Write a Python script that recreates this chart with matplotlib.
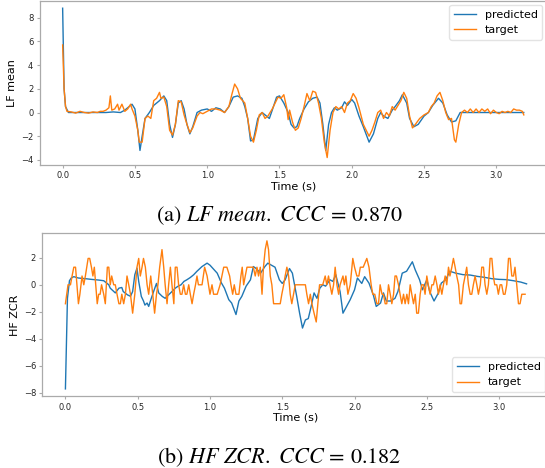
import matplotlib
matplotlib.use("Agg")
import matplotlib.pyplot as plt
import numpy as np

# (a) LF mean
t_lf_pred = [0.00, 0.01, 0.02, 0.04, 0.10, 0.20, 0.30, 0.35, 0.40, 0.43, 0.46, 0.48, 0.50, 0.52,
             0.535, 0.55, 0.57, 0.60, 0.63, 0.67, 0.70, 0.72, 0.74, 0.76, 0.78, 0.80, 0.82, 0.84,
             0.86, 0.88, 0.90, 0.93, 0.96, 1.00, 1.03, 1.06, 1.09, 1.12, 1.15, 1.18, 1.21, 1.24,
             1.26, 1.28, 1.30, 1.32, 1.35, 1.38, 1.40, 1.43, 1.45, 1.48, 1.50, 1.53, 1.56, 1.58,
             1.60, 1.62, 1.64, 1.67, 1.70, 1.73, 1.76, 1.78, 1.80, 1.82, 1.84, 1.86, 1.88, 1.90,
             1.93, 1.95, 1.97, 2.00, 2.02, 2.05, 2.08, 2.12, 2.15, 2.18, 2.20, 2.22, 2.25, 2.28,
             2.30, 2.33, 2.35, 2.38, 2.40, 2.43, 2.46, 2.50, 2.53, 2.56, 2.60, 2.63, 2.66, 2.69,
             2.72, 2.75, 2.80, 3.00, 3.19]
lf_pred = [8.8, 2.0, 0.5, 0.0, 0.0, 0.0, 0.0, 0.05, 0.0, 0.2, 0.5, 0.7, 0.3, -1.5,
           -3.2, -2.0, -0.5, 0.0, 0.6, 1.0, 1.4, 1.0, -1.0, -2.1, -1.0, 0.8, 1.0, 0.3,
           -1.0, -1.8, -1.2, 0.0, 0.2, 0.3, 0.1, 0.4, 0.3, 0.0, 0.5, 1.3, 1.4, 1.2,
           0.5, -0.5, -2.4, -2.3, -0.5, 0.0, -0.2, -0.5, 0.2, 1.3, 1.4, 0.8, 0.0, -1.0,
           -1.3, -1.2, -0.5, 0.3, 0.9, 1.2, 1.3, 0.8, -1.0, -3.2, -1.0, 0.0, 0.4, 0.2,
           0.4, 0.9, 0.6, 1.1, 0.8, -0.3, -1.2, -2.5, -1.8, -0.5, 0.0, -0.3, -0.5, 0.2,
           0.5, 1.0, 1.5, 0.8, -0.5, -1.2, -1.0, -0.3, 0.0, 0.6, 1.2, 0.8, -0.2, -0.8,
           -0.7, 0.0, 0.0, 0.0, 0.0]

t_lf_target = [0.00, 0.01, 0.02, 0.03, 0.06, 0.09, 0.12, 0.15, 0.18, 0.21, 0.24, 0.26, 0.28, 0.30,
               0.32, 0.33, 0.34, 0.36, 0.38, 0.39, 0.41, 0.43, 0.45, 0.47, 0.48, 0.50, 0.52, 0.53,
               0.55, 0.57, 0.59, 0.61, 0.63, 0.65, 0.67, 0.68, 0.70, 0.72, 0.74, 0.76, 0.78, 0.80,
               0.82, 0.84, 0.86, 0.88, 0.90, 0.93, 0.95, 0.97, 1.00, 1.03, 1.06, 1.09, 1.12, 1.15,
               1.17, 1.19, 1.21, 1.23, 1.26, 1.28, 1.30, 1.32, 1.34, 1.36, 1.38, 1.40, 1.42, 1.45,
               1.47, 1.49, 1.51, 1.53, 1.55, 1.56, 1.57, 1.59, 1.61, 1.63, 1.65, 1.67, 1.69, 1.71,
               1.73, 1.75, 1.77, 1.79, 1.81, 1.83, 1.85, 1.87, 1.89, 1.91, 1.93, 1.95, 1.97, 1.99,
               2.01, 2.03, 2.05, 2.08, 2.10, 2.12, 2.14, 2.16, 2.18, 2.20, 2.22, 2.24, 2.26, 2.28,
               2.30, 2.32, 2.34, 2.36, 2.38, 2.40, 2.42, 2.44, 2.47, 2.50, 2.53, 2.55, 2.57, 2.59,
               2.61, 2.63, 2.65, 2.67, 2.69, 2.71, 2.72, 2.74, 2.76, 2.78, 2.80, 2.82, 2.84, 2.86,
               2.88, 2.90, 2.92, 2.94, 2.96, 2.98, 3.00, 3.02, 3.04, 3.06, 3.08, 3.10, 3.12, 3.14,
               3.16, 3.18, 3.19]
lf_target = [5.7, 2.0, 0.5, 0.1, 0.05, -0.05, 0.1, 0.0, -0.05, 0.05, 0.0, 0.1, 0.1, 0.2,
             0.4, 1.4, 0.2, 0.3, 0.7, 0.2, 0.7, 0.1, 0.3, 0.7, 0.3, -0.3, -1.5, -2.5,
             -2.5, -0.5, -0.3, -0.5, 1.0, 1.2, 1.7, 1.2, 1.3, 0.5, -1.5, -1.9, -1.0, 1.0,
             0.9, -0.2, -1.0, -1.7, -1.3, -0.3, 0.0, -0.1, 0.1, 0.3, 0.3, 0.2, 0.0, 0.5,
             1.5, 2.4, 2.0, 1.2, 0.8, -0.5, -2.0, -2.5, -1.5, -0.2, 0.0, -0.5, -0.3, 0.3,
             0.8, 1.3, 1.2, 1.5, 0.4, -0.6, 0.2, -0.8, -1.5, -1.3, -0.5, 0.5, 1.6, 1.0,
             1.8, 1.7, 0.8, -0.5, -2.5, -3.8, -1.5, 0.0, 0.5, 0.3, 0.5, 0.0, 0.8, 1.0,
             1.6, 1.2, 0.4, -1.0, -1.5, -2.0, -1.5, -0.8, 0.0, 0.2, -0.5, 0.0, -0.3, 0.5,
             0.2, 0.6, 1.0, 1.7, 1.2, -0.3, -1.3, -1.0, -0.5, -0.2, 0.0, 0.5, 0.8, 1.4,
             1.7, 1.0, 0.0, -0.6, -0.5, -2.3, -2.5, -1.0, 0.0, 0.2, 0.0, 0.3, 0.0, 0.3,
             0.0, 0.3, 0.1, 0.3, -0.1, 0.2, 0.0, -0.1, 0.1, 0.0, 0.1, 0.0, 0.3, 0.2,
             0.2, 0.1, -0.2]

# (b) HF ZCR
t_hf_pred = [0.00, 0.014, 0.028, 0.04, 0.058, 0.09, 0.14, 0.18, 0.23, 0.265, 0.30, 0.31, 0.345,
             0.37, 0.39, 0.40, 0.43, 0.45, 0.465, 0.48, 0.495, 0.507, 0.525, 0.54, 0.55, 0.565,
             0.576, 0.594, 0.61, 0.63, 0.645, 0.67, 0.69, 0.714, 0.737, 0.76, 0.78, 0.80, 0.82,
             0.84, 0.864, 0.887, 0.91, 0.945, 0.98, 1.00, 1.05, 1.08, 1.10, 1.13, 1.15, 1.18,
             1.20, 1.22, 1.25, 1.28, 1.30, 1.32, 1.35, 1.38, 1.40, 1.45, 1.48, 1.50, 1.52, 1.55,
             1.57, 1.60, 1.62, 1.64, 1.66, 1.68, 1.70, 1.72, 1.74, 1.76, 1.78, 1.80, 1.83, 1.85,
             1.87, 1.90, 1.92, 1.95, 1.97, 2.00, 2.02, 2.05, 2.07, 2.10, 2.13, 2.15, 2.18, 2.20,
             2.22, 2.25, 2.28, 2.30, 2.33, 2.36, 2.38, 2.40, 2.42, 2.45, 2.47, 2.50, 2.52, 2.55,
             2.58, 2.60, 2.63, 2.66, 2.70, 2.75, 2.80, 2.85, 2.90, 2.95, 3.00, 3.05, 3.10, 3.15,
             3.19]
hf_pred = [-7.7, -1.0, 0.3, 0.5, 0.6, 0.5, 0.45, 0.4, 0.35, 0.3, 0.0, -0.25, -0.6,
           -0.25, -0.2, -0.5, -0.75, -0.85, -0.5, 0.74, 1.23, 0.25, -0.86, -1.2, -1.5, -1.35,
           -1.6, -1.0, -0.5, 0.1, -0.6, -0.86, -1.0, -0.74, -0.5, -0.25, -0.1, 0.0, 0.25,
           0.37, 0.54, 0.74, 1.0, 1.35, 1.6, 1.45, 0.86, 0.12, -0.25, -1.1, -1.35, -2.2,
           -1.2, -0.86, -0.1, 0.37, 1.35, 1.2, 0.86, 1.35, 1.6, 1.3, 0.37, 0.1, 0.37, 1.2,
           0.86, -0.86, -2.1, -3.2, -2.6, -2.5, -1.6, -0.6, -1.0, -0.25, 0.0, -0.1, 0.37, 0.25,
           0.75, -0.5, -2.1, -1.5, -1.1, -0.37, 0.5, 0.1, 0.6, 0.12, -0.75, -1.6, -1.35, -0.6,
           -1.2, -1.2, -1.0, -0.5, 0.86, 1.0, 1.35, 1.7, 1.1, 0.37, -0.37, 0.37, -0.5, -1.2,
           -0.6, 0.12, 0.37, 1.0, 0.86, 0.75, 0.72, 0.62, 0.55, 0.45, 0.4, 0.38, 0.3, 0.2,
           0.07]

t_hf_target = [0.000, 0.018, 0.035, 0.046, 0.058, 0.070, 0.080, 0.090, 0.100, 0.115, 0.127, 0.138,
               0.157, 0.168, 0.180, 0.190, 0.200, 0.220, 0.230, 0.240, 0.250, 0.265, 0.276, 0.290,
               0.300, 0.310, 0.320, 0.334, 0.345, 0.357, 0.370, 0.380, 0.390, 0.403, 0.415, 0.426,
               0.438, 0.450, 0.465, 0.480, 0.495, 0.507, 0.518, 0.530, 0.540, 0.553, 0.565, 0.576,
               0.590, 0.604, 0.617, 0.630, 0.640, 0.652, 0.668, 0.680, 0.690, 0.703, 0.714, 0.726,
               0.737, 0.750, 0.760, 0.772, 0.783, 0.795, 0.806, 0.818, 0.830, 0.840, 0.853, 0.864,
               0.876, 0.887, 0.900, 0.910, 0.920, 0.945, 0.963, 0.980, 0.990, 1.000, 1.014, 1.025,
               1.050, 1.070, 1.095, 1.117, 1.136, 1.145, 1.157, 1.168, 1.180, 1.200, 1.214, 1.223,
               1.233, 1.244, 1.256, 1.280, 1.300, 1.313, 1.325, 1.336, 1.348, 1.360, 1.370, 1.382,
               1.394, 1.405, 1.417, 1.428, 1.440, 1.460, 1.486, 1.497, 1.510, 1.520, 1.532, 1.544,
               1.555, 1.566, 1.578, 1.590, 1.613, 1.636, 1.660, 1.670, 1.682, 1.694, 1.705, 1.720,
               1.735, 1.746, 1.758, 1.770, 1.780, 1.797, 1.808, 1.820, 1.830, 1.843, 1.855, 1.866,
               1.878, 1.890, 1.900, 1.920, 1.930, 1.940, 1.954, 1.970, 1.988, 2.000, 2.016, 2.030,
               2.040, 2.060, 2.085, 2.100, 2.115, 2.126, 2.140, 2.155, 2.166, 2.177, 2.190, 2.200,
               2.212, 2.223, 2.235, 2.247, 2.258, 2.270, 2.280, 2.290, 2.304, 2.315, 2.327, 2.339,
               2.350, 2.362, 2.373, 2.385, 2.396, 2.408, 2.420, 2.430, 2.442, 2.454, 2.465, 2.477,
               2.488, 2.500, 2.510, 2.523, 2.535, 2.546, 2.558, 2.570, 2.580, 2.592, 2.604, 2.615,
               2.627, 2.638, 2.650, 2.660, 2.673, 2.684, 2.696, 2.707, 2.720, 2.730, 2.740, 2.753,
               2.765, 2.776, 2.788, 2.800, 2.811, 2.822, 2.834, 2.846, 2.857, 2.870, 2.880, 2.892,
               2.903, 2.915, 2.926, 2.938, 2.950, 2.960, 2.970, 2.984, 2.995, 3.007, 3.018, 3.030,
               3.041, 3.053, 3.065, 3.076, 3.088, 3.100, 3.110, 3.122, 3.134, 3.145, 3.157, 3.180]
hf_target = [-1.4, 0.0, 0.0, 0.65, 1.3, 1.3, 0.0, -1.4, -0.7, 0.65, 0.0, 0.65,
             1.95, 1.95, 1.3, 0.65, 1.3, -1.4, -0.7, -0.7, 0.0, -0.7, -1.4, 1.3,
             1.3, 0.0, 0.65, 0.0, 0.0, -0.7, -1.4, -1.4, -0.7, -1.4, -0.7, 0.65,
             0.0, -0.7, -2.1, -0.7, 1.3, 1.95, 0.65, 1.3, 1.95, 1.3, 0.0, -0.7,
             0.65, -0.7, -2.1, -0.7, 0.0, 1.3, 2.6, 1.3, 0.0, -1.4, 0.0, 1.3,
             0.0, -1.4, 1.3, 1.3, 0.0, -0.7, -0.7, 0.0, -0.7, -0.7, 0.0, -0.7,
             -1.4, -0.7, 0.0, 0.65, 0.0, 0.0, 1.3, 0.65, 0.0, -0.7, 0.0, -0.7,
             -0.7, 0.0, 1.3, 1.3, 0.65, 0.0, -0.7, 0.0, -0.7, -0.7, 0.65, 1.3,
             0.0, 0.65, 1.3, 1.3, 1.3, 0.65, 1.3, 0.65, 1.3, -0.7, 1.3, 2.6,
             3.25, 2.6, 0.65, 0.0, -1.4, -1.4, -1.4, -0.7, 0.0, 0.65, 1.3, 0.65,
             -0.7, -1.4, -0.7, 0.0, 0.0, 0.0, 0.0, -0.7, -1.4, -0.7, -1.4, -2.1,
             -2.75, -1.4, 0.0, 0.0, 0.0, 0.65, 0.0, 0.65, 0.0, -0.7, 0.0, 1.3,
             0.0, -0.7, 0.0, 0.65, 0.0, 0.65, -0.7, 0.0, 1.95, 1.3, 0.65, 0.65,
             1.3, 1.3, 1.95, 1.3, 0.0, -0.7, -0.7, -1.4, -1.4, 0.0, -0.7, -0.7,
             -1.4, -1.4, 0.0, -0.7, -1.4, -0.7, 0.65, 0.65, 0.0, -0.7, -1.4, -0.7,
             -1.4, -0.7, -1.4, 0.0, -0.7, -1.4, -0.7, -2.1, -2.1, -0.7, 0.0, 0.0,
             -0.7, 0.65, 0.0, -0.7, 0.0, 0.0, 0.65, 0.0, -0.7, 0.0, -0.7, 0.0,
             0.65, 0.0, 1.3, 0.65, 1.3, 1.95, 1.3, 0.65, 0.0, -1.4, -1.4, 0.0,
             0.65, 1.3, 0.0, -0.7, -0.7, 0.0, 0.65, 0.0, -0.7, 0.0, 1.3, 1.3,
             0.0, -0.7, 0.0, 1.95, 1.95, 0.65, 0.0, 0.0, -0.7, 0.0, 0.0, -0.7,
             -0.7, 0.0, 1.95, 1.95, 0.65, 0.65, 1.3, 0.0, -1.4, -1.4, -0.7, -0.7]

panels = [
    (t_lf_pred, lf_pred, t_lf_target, lf_target, "LF mean", "upper right",
     r"(a) $\mathit{LF\ mean.\ CCC}\,=\,0.870$"),
    (t_hf_pred, hf_pred, t_hf_target, hf_target, "HF ZCR", "lower right",
     r"(b) $\mathit{HF\ ZCR.\ CCC}\,=\,0.182$"),
]

plt.rcParams["mathtext.fontset"] = "stix"

fig = plt.figure(figsize=(5.45, 4.68), dpi=100)
ax_rects = [[0.0725, 0.6474, 0.931, 0.351], [0.0776, 0.1532, 0.931, 0.348]]
caption_y = [1 - 216 / 468, 1 - 457 / 468]
spine_col = "#aaaaaa"

for (tp, vp, tt, vt, ylab, loc, cap), rect, cy in zip(panels, ax_rects, caption_y):
    ax = fig.add_axes(rect)
    ax.plot(tp, vp, color="tab:blue", lw=1.0, label="predicted")
    ax.plot(tt, vt, color="tab:orange", lw=1.0, label="target")
    ax.set_xlim(-0.16, 3.35)
    ax.set_xticks(np.arange(0, 3.01, 0.5))
    ax.set_xlabel("Time (s)", fontsize=8, labelpad=1)
    ax.set_ylabel(ylab, fontsize=8, labelpad=3)
    ax.tick_params(labelsize=6, length=2.5, width=0.8, color=spine_col, pad=2,
                   labelcolor="#262626")
    for s in ax.spines.values():
        s.set_color(spine_col)
        s.set_linewidth(0.9)
    ax.legend(loc=loc, fontsize=8, frameon=True, edgecolor="#dddddd", fancybox=True,
              borderaxespad=0.4)
    fig.text(0.513, cy, cap, ha="center", va="center", fontsize=16,
             family="STIXGeneral")

fig.savefig("out.png", dpi=100)
